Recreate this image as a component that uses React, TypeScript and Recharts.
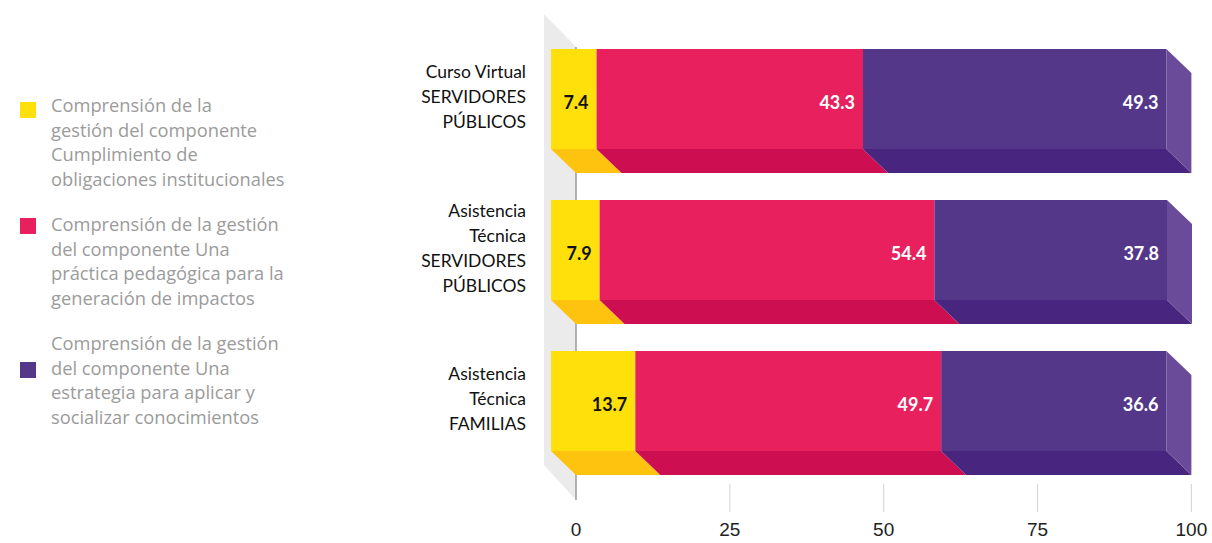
import { BarChart, Bar, XAxis, YAxis, ReferenceArea, LabelList } from "recharts";

// categories (lines separated by "|")
const categories = [
  "Curso Virtual|SERVIDORES|PÚBLICOS",
  "Asistencia|Técnica|SERVIDORES|PÚBLICOS",
  "Asistencia|Técnica|FAMILIAS"
];
const cumplimiento = [7.4, 7.9, 13.7];
const practica = [43.3, 54.4, 49.7];
const estrategia = [49.3, 37.8, 36.6];
const xTicks = [0, 25, 50, 75, 100];

const legendCumplimiento = ["Comprensión de la", "gestión del componente", "Cumplimiento de", "obligaciones institucionales"];
const legendPractica = ["Comprensión de la gestión", "del componente Una", "práctica pedagógica para la", "generación de impactos"];
const legendEstrategia = ["Comprensión de la gestión", "del componente Una", "estrategia para aplicar y", "socializar conocimientos"];

const data = categories.map((name, i) => ({
  name,
  cumplimiento: cumplimiento[i],
  practica: practica[i],
  estrategia: estrategia[i]
}));

const series = [
  { key: "cumplimiento", lines: legendCumplimiento, front: "#ffe00a", bottom: "#fdc30f", side: "#f5c800", text: "#111111", sq: 9 },
  { key: "practica", lines: legendPractica, front: "#e8215e", bottom: "#cd0e50", side: "#d21a56", text: "#ffffff", sq: 6 },
  { key: "estrategia", lines: legendEstrategia, front: "#55378a", bottom: "#48267f", side: "#6a4b99", text: "#ffffff", sq: 31 }
];

// 3d depth of bars
const DX = 25;
const DY = 24;
const FONT = "Lato, 'Open Sans', sans-serif";

const Block = (props: any) => {
  const { x, y, width, height, s, last } = props;
  const fx = x - DX;
  const fy = y - DY;
  return (
    <g>
      <rect x={fx} y={fy} width={width} height={height} fill={s.front} />
      <polygon
        points={`${fx},${fy + height} ${fx + width},${fy + height} ${x + width},${y + height} ${x},${y + height}`}
        fill={s.bottom}
      />
      {last && (
        <polygon
          points={`${fx + width},${fy} ${x + width},${y} ${x + width},${y + height} ${fx + width},${fy + height}`}
          fill={s.side}
        />
      )}
    </g>
  );
};

const valueLabel = (color: string) => (props: any) => {
  const x = Number(props.x);
  const y = Number(props.y);
  const w = Number(props.width);
  const h = Number(props.height);
  return (
    <text
      x={x + w - DX - 8}
      y={y - DY + h / 2 + 3}
      textAnchor="end"
      dominantBaseline="central"
      fill={color}
      fontSize={18}
      fontWeight={700}
      fontFamily={FONT}
    >
      {props.value}
    </text>
  );
};

const Wall = (props: any) => {
  const { x, y, height } = props;
  return (
    <g>
      <polygon
        points={`${x - 32},${y - 33} ${x},${y} ${x},${y + height} ${x - 32},${y + height - 35}`}
        fill="#ebebeb"
      />
      <line x1={x} x2={x} y1={y} y2={y + height} stroke="#9a9a9a" strokeWidth={1.5} />
    </g>
  );
};

const XTick = (props: any) => {
  const { x, y, payload } = props;
  return (
    <g>
      {payload.value > 0 && (
        <line x1={x} x2={x} y1={y - 39} y2={y - 11} stroke="#d9d9d9" strokeWidth={1.2} />
      )}
      <text x={x} y={y} dy="0.71em" textAnchor="middle" fontSize={19} fill="#222" fontFamily="'Liberation Sans', Arial, sans-serif">
        {payload.value}
      </text>
    </g>
  );
};

const YTick = (props: any) => {
  const { x, y, payload } = props;
  const lines = String(payload.value).split("|");
  const lh = 25;
  const top = y - DY - 2 - ((lines.length - 1) * lh) / 2;
  return (
    <text textAnchor="end" fontSize={17.5} fill="#111" fontFamily={FONT}>
      {lines.map((l, i) => (
        <tspan key={i} x={x} y={top + i * lh} dominantBaseline="central">
          {l}
        </tspan>
      ))}
    </text>
  );
};

const SideLegend = () => (
  <div style={{ position: "absolute", left: 20, top: 93 }}>
    {series.map((s) => (
      <div key={s.key} style={{ display: "flex", marginBottom: 21 }}>
        <div style={{ width: 16, height: 16, background: s.front, marginTop: s.sq, flexShrink: 0 }} />
        <div style={{ marginLeft: 15, color: "#9b9b9b", fontSize: 18.3, lineHeight: "24.5px", fontFamily: "'Open Sans', sans-serif" }}>
          {s.lines.map((l, i) => (
            <div key={i} style={{ whiteSpace: "nowrap" }}>{l}</div>
          ))}
        </div>
      </div>
    ))}
  </div>
);

export default function App() {
  return (
    <div style={{ position: "absolute", left: 0, top: 0, width: 1212, height: 543, background: "#fff" }}>
      <SideLegend />
      <BarChart
        width={1212}
        height={543}
        data={data}
        layout="vertical"
        margin={{ top: 45, right: 20, left: 0, bottom: 0 }}
        style={{ position: "absolute", left: 0, top: 0 }}
      >
        <XAxis
          type="number"
          domain={[0, 100]}
          ticks={xTicks}
          axisLine={false}
          tickLine={false}
          height={28}
          tick={<XTick />}
        />
        <YAxis
          type="category"
          dataKey="name"
          width={576}
          axisLine={false}
          tickLine={false}
          tickSize={0}
          tickMargin={50}
          padding={{ top: 2, bottom: 15 }}
          tick={<YTick />}
        />
        <ReferenceArea x1={0} x2={100} ifOverflow="visible" shape={<Wall />} />
        {series.map((s, i) => (
          <Bar
            key={s.key}
            dataKey={s.key}
            stackId="a"
            barSize={100}
            isAnimationActive={false}
            shape={(p: any) => <Block {...p} s={s} last={i === series.length - 1} />}
          >
            <LabelList dataKey={s.key} content={valueLabel(s.text)} />
          </Bar>
        ))}
      </BarChart>
    </div>
  );
}
